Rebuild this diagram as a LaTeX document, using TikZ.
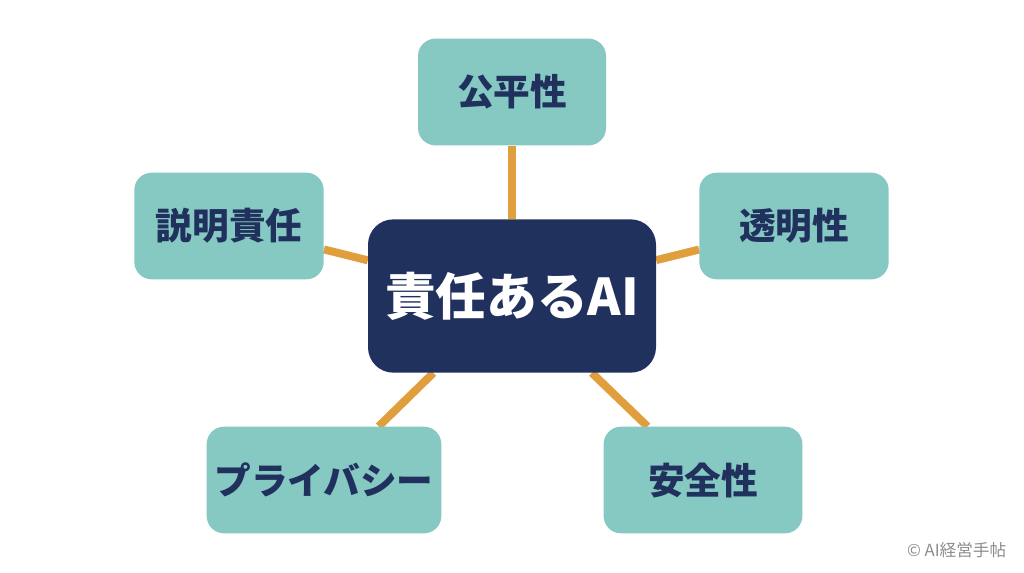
\documentclass[tikz,border=0pt]{standalone}
\usepackage{fontspec}
\setmainfont{Noto Sans CJK JP}
\usepackage{tikz}
\usetikzlibrary{backgrounds}
\definecolor{navy}{HTML}{21315E}
\definecolor{tealbox}{HTML}{86C8C2}
\definecolor{spoke}{HTML}{E09E3C}
\definecolor{muted}{HTML}{8C8C8C}

\begin{document}
\begin{tikzpicture}[x=0.75pt,y=-0.75pt,
  hub/.style={fill=navy,rounded corners=19pt,minimum width=216pt,minimum height=115pt,
    text=white,font=\fontsize{38}{40}\selectfont\bfseries},
  pillar/.style={fill=tealbox,rounded corners=13pt,minimum height=80pt,inner sep=0pt,
    text=navy,font=\fontsize{27.5}{30}\selectfont\bfseries},
  link/.style={draw=spoke,line width=6pt}]
  \useasboundingbox (0,0) rectangle (1024,572);
  \node[hub] (core) at (512,296) {責任あるAI};
  \foreach \name/\x/\y/\w/\label in {
    fair/512/92/141/{公平性},
    clear/794/226/142/{透明性},
    duty/229/226/142/{説明責任},
    priv/324/480/176/{プライバシー},
    safe/703/480/149/{安全性}} {
    \node[pillar,minimum width=\w pt] (\name) at (\x,\y) {\label};
    \begin{scope}[on background layer]
      \draw[link] (core) -- (\name);
    \end{scope}
  }
  \node[anchor=east,text=muted,font=\fontsize{12.5}{14}\selectfont] (credit) at (1011,550) {© AI経営手帖};
\end{tikzpicture}
\end{document}
